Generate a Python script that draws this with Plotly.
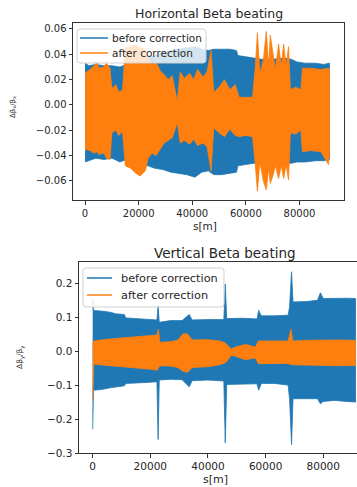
import plotly.graph_objects as go

# ---------------- data (envelopes) ----------------
# Horizontal beta beating, before correction
s_hb = [0, 1500, 4000, 7000, 10000, 13000, 15500, 18000, 21000, 23500, 26000, 29000,
        32000, 35000, 38000, 41000, 43500, 46000, 48000, 51000, 54000, 56500, 57000,
        60000, 63000, 66000, 70000, 74000, 77000, 79000, 82000, 86000, 89000, 91200]
hb_up = [0.033, 0.031, 0.032, 0.031, 0.031, 0.030, 0.032, 0.038, 0.040, 0.037, 0.039, 0.041,
         0.043, 0.044, 0.045, 0.046, 0.044, 0.043, 0.044, 0.044, 0.044, 0.043, 0.039,
         0.038, 0.037, 0.036, 0.036, 0.037, 0.036, 0.034, 0.033, 0.033, 0.032, 0.033]
hb_lo = [-0.045, -0.044, -0.042, -0.043, -0.042, -0.045, -0.043, -0.046, -0.047, -0.048, -0.050, -0.051,
         -0.053, -0.054, -0.055, -0.057, -0.053, -0.052, -0.055, -0.055, -0.054, -0.053, -0.048,
         -0.047, -0.046, -0.046, -0.045, -0.046, -0.046, -0.045, -0.045, -0.044, -0.044, -0.043]

# Horizontal beta beating, after correction
s_ha = [0, 1900, 3000, 4500, 5200, 7000, 8000, 9300, 10000, 11500, 12500, 14000, 15000,
        17000, 19000, 20600, 22500, 23500, 25000, 26500, 28000, 29500, 31000, 32500,
        34400, 35500, 37000, 39000, 40500, 42000, 44000, 45500, 47000, 48000, 50000,
        52000, 54000, 56000, 57500, 60000, 62500, 63500, 64300, 65200, 66500, 67600,
        68500, 69100, 70200, 71000, 72200, 73200, 74100, 75000, 75900, 76600, 78500,
        80500, 81100, 84000, 88000, 90800, 91200]
ha_up = [0.025, 0.028, 0.030, 0.034, 0.029, 0.030, 0.033, 0.029, 0.013, 0.016, 0.010, 0.012, 0.045,
         0.046, 0.047, 0.045, 0.044, 0.036, 0.032, 0.034, 0.027, 0.024, 0.020, 0.023,
         0.003, 0.026, 0.021, 0.025, 0.020, 0.028, 0.022, 0.026, 0.043, 0.010, 0.014,
         0.020, 0.012, 0.016, 0.006, 0.006, 0.006, 0.030, 0.057, 0.025, 0.035, 0.058,
         0.030, 0.055, 0.040, 0.028, 0.048, 0.030, 0.048, 0.030, 0.046, 0.012, 0.014,
         0.012, 0.029, 0.029, 0.028, 0.029, 0.028]
ha_lo = [-0.035, -0.036, -0.038, -0.037, -0.039, -0.038, -0.042, -0.043, -0.022, -0.020, -0.024, -0.021, -0.048,
         -0.050, -0.054, -0.056, -0.052, -0.042, -0.038, -0.040, -0.035, -0.030, -0.028, -0.026,
         -0.014, -0.030, -0.028, -0.031, -0.027, -0.032, -0.030, -0.033, -0.052, -0.018, -0.022,
         -0.025, -0.019, -0.024, -0.025, -0.024, -0.025, -0.047, -0.068, -0.045, -0.060, -0.067,
         -0.050, -0.062, -0.055, -0.048, -0.058, -0.048, -0.058, -0.047, -0.059, -0.022, -0.023,
         -0.020, -0.037, -0.036, -0.037, -0.047, -0.038]

# Vertical beta beating, before correction
s_vb = [0, 300, 3000, 6000, 8000, 11000, 11500, 15000, 19000, 22300, 22700, 23100, 27000,
        31000, 33500, 34500, 40000, 45500, 46000, 46500, 52000, 57000, 57600, 58500,
        63000, 67800, 68300, 69000, 69500, 74000, 78000, 79000, 80000, 84000, 88000, 91200]
vb_up = [0.155, 0.12, 0.118, 0.115, 0.11, 0.108, 0.098, 0.096, 0.094, 0.092, 0.135, 0.085, 0.09,
         0.09, 0.108, 0.092, 0.093, 0.093, 0.198, 0.096, 0.097, 0.095, 0.12, 0.104,
         0.104, 0.106, 0.13, 0.234, 0.145, 0.146, 0.15, 0.172, 0.155, 0.156, 0.156, 0.155]
vb_lo = [-0.23, -0.115, -0.113, -0.108, -0.105, -0.102, -0.095, -0.093, -0.092, -0.09, -0.26, -0.085, -0.083,
         -0.084, -0.105, -0.087, -0.085, -0.088, -0.27, -0.098, -0.097, -0.096, -0.115, -0.095,
         -0.095, -0.10, -0.14, -0.275, -0.14, -0.14, -0.14, -0.155, -0.148, -0.145, -0.148, -0.15]

# Vertical beta beating, after correction
s_va = [0, 400, 5000, 10000, 15000, 20000, 22400, 22800, 23300, 27000, 29500, 31500, 33000,
        34500, 40000, 44000, 45800, 46600, 48000, 49500, 53000, 56500, 57500, 62000,
        67800, 68800, 69400, 75000, 80000, 85000, 91200]
va_up = [0.02, 0.03, 0.035, 0.038, 0.042, 0.046, 0.048, 0.065, 0.026, 0.028, 0.032, 0.052, 0.05,
         0.033, 0.034, 0.03, 0.025, 0.02, 0.006, 0.012, 0.02, 0.012, 0.03, 0.03,
         0.03, 0.065, 0.03, 0.032, 0.033, 0.033, 0.032]
va_lo = [-0.145, -0.038, -0.042, -0.045, -0.05, -0.053, -0.056, -0.05, -0.043, -0.044, -0.048, -0.06, -0.062,
         -0.048, -0.046, -0.04, -0.035, -0.03, -0.012, -0.015, -0.025, -0.02, -0.037, -0.037,
         -0.036, -0.04, -0.038, -0.04, -0.042, -0.043, -0.042]

series_names = ["before correction", "after correction"]
x_ticks = [0, 20000, 40000, 60000, 80000]
x_tick_text = ["0", "20000", "40000", "60000", "80000"]
yh_ticks = [-0.06, -0.04, -0.02, 0.0, 0.02, 0.04, 0.06]
yh_tick_text = ["\u22120.06", "\u22120.04", "\u22120.02", "0.00", "0.02", "0.04", "0.06"]
yv_ticks = [-0.3, -0.2, -0.1, 0.0, 0.1, 0.2]
yv_tick_text = ["\u22120.3", "\u22120.2", "\u22120.1", "0.0", "0.1", "0.2"]

BLUE = "#1f77b4"
ORANGE = "#ff7f0e"
COLORS = [BLUE, ORANGE]
FONT = "DejaVu Sans"
TXT = "#262626"
W, H = 357, 487


def px(x):
    return x / W


def py(y):
    return 1 - y / H


def band(s, up, lo, color, xa, ya):
    return go.Scatter(x=list(s) + list(s)[::-1], y=list(up) + list(lo)[::-1],
                      fill="toself", fillcolor=color, mode="lines",
                      line=dict(color=color, width=0.8), showlegend=False,
                      hoverinfo="skip", xaxis=xa, yaxis=ya)


fig = go.Figure()
fig.add_trace(band(s_hb, hb_up, hb_lo, BLUE, "x", "y"))
fig.add_trace(band(s_ha, ha_up, ha_lo, ORANGE, "x", "y"))
fig.add_trace(band(s_vb, vb_up, vb_lo, BLUE, "x2", "y2"))
fig.add_trace(band(s_va, va_up, va_lo, ORANGE, "x2", "y2"))

axis_common = dict(showgrid=False, zeroline=False, showline=True, linecolor="#333333",
                   linewidth=1, ticks="outside", ticklen=3.5, tickwidth=1, tickcolor="#333333",
                   automargin=False)


def rounded_rect(x0, y0, x1, y1, r=3):
    def P(x, y):
        return f"{px(x):.5f},{py(y):.5f}"
    return (f"M {P(x0 + r, y0)} L {P(x1 - r, y0)} Q {P(x1, y0)} {P(x1, y0 + r)} "
            f"L {P(x1, y1 - r)} Q {P(x1, y1)} {P(x1 - r, y1)} "
            f"L {P(x0 + r, y1)} Q {P(x0, y1)} {P(x0, y1 - r)} "
            f"L {P(x0, y0 + r)} Q {P(x0, y0)} {P(x0 + r, y0)} Z")


shapes = []
annotations = []


def add_legend(box, line_x, rows_y, text_x, fsize):
    shapes.append(dict(type="path", xref="paper", yref="paper", path=rounded_rect(*box),
                       fillcolor="rgba(255,255,255,0.8)", line=dict(color="#d0d0d0", width=1)))
    for name, col, ry in zip(series_names, COLORS, rows_y):
        shapes.append(dict(type="line", xref="paper", yref="paper",
                           x0=px(line_x[0]), x1=px(line_x[1]), y0=py(ry), y1=py(ry),
                           line=dict(color=col, width=1.5)))
        annotations.append(dict(text=name, x=px(text_x), y=py(ry), xref="paper", yref="paper",
                                showarrow=False, xanchor="left", yanchor="middle",
                                font=dict(size=fsize, family=FONT, color=TXT)))


add_legend((77, 29, 206, 63), (80, 108), (38, 53), 110, 10.5)
add_legend((83, 268, 224, 307), (87, 112), (278, 295), 119, 11.3)

annotations += [
    dict(text="Horizontal Beta beating", x=px(208.5), y=py(14), xref="paper", yref="paper",
         showarrow=False, font=dict(size=12.5, color=TXT), xanchor="center", yanchor="middle"),
    dict(text="Vertical Beta beating", x=px(225), y=py(253), xref="paper", yref="paper",
         showarrow=False, font=dict(size=13.5, color=TXT), xanchor="center", yanchor="middle"),
    dict(text="s[m]", x=px(205), y=py(226), xref="paper", yref="paper",
         showarrow=False, font=dict(size=10.5, color=TXT), xanchor="center", yanchor="middle"),
    dict(text="s[m]", x=px(215), y=py(479), xref="paper", yref="paper",
         showarrow=False, font=dict(size=11, color=TXT), xanchor="center", yanchor="middle"),
    dict(text="Δβ<sub>x</sub>/β<sub>x</sub>", x=px(13), y=py(107), xref="paper", yref="paper",
         showarrow=False, font=dict(size=7, color=TXT), textangle=-90, xanchor="center", yanchor="middle"),
    dict(text="Δβ<sub>y</sub>/β<sub>y</sub>", x=px(20), y=py(358), xref="paper", yref="paper",
         showarrow=False, font=dict(size=7.5, color=TXT), textangle=-90, xanchor="center", yanchor="middle"),
]

fig.update_layout(
    template="none",
    width=W, height=H, margin=dict(l=0, r=0, t=0, b=0, pad=0), autosize=False,
    paper_bgcolor="white", plot_bgcolor="white", showlegend=False,
    font=dict(family=FONT, color=TXT),
    xaxis=dict(domain=[px(73), px(344)], range=[-4500, 96600], anchor="y", mirror=True,
               tickvals=x_ticks, ticktext=x_tick_text, tickfont=dict(size=10), **axis_common),
    yaxis=dict(domain=[py(200), py(23)], range=[-0.075, 0.0647], anchor="x", mirror=True,
               tickvals=yh_ticks, ticktext=yh_tick_text, tickfont=dict(size=10), **axis_common),
    xaxis2=dict(domain=[px(79), 1.0], range=[-4740, 91700], anchor="y2", mirror=True,
                tickvals=x_ticks, ticktext=x_tick_text, tickfont=dict(size=10.5), **axis_common),
    yaxis2=dict(domain=[py(453), py(262)], range=[-0.3, 0.2627], anchor="x2", mirror=False,
                tickvals=yv_ticks, ticktext=yv_tick_text, tickfont=dict(size=10.5), **axis_common),
    shapes=shapes,
    annotations=annotations,
)

fig.write_html("out.html", config={"displayModeBar": False, "staticPlot": True},
               post_script="document.body.style.margin='0';document.body.style.overflow='hidden';")
